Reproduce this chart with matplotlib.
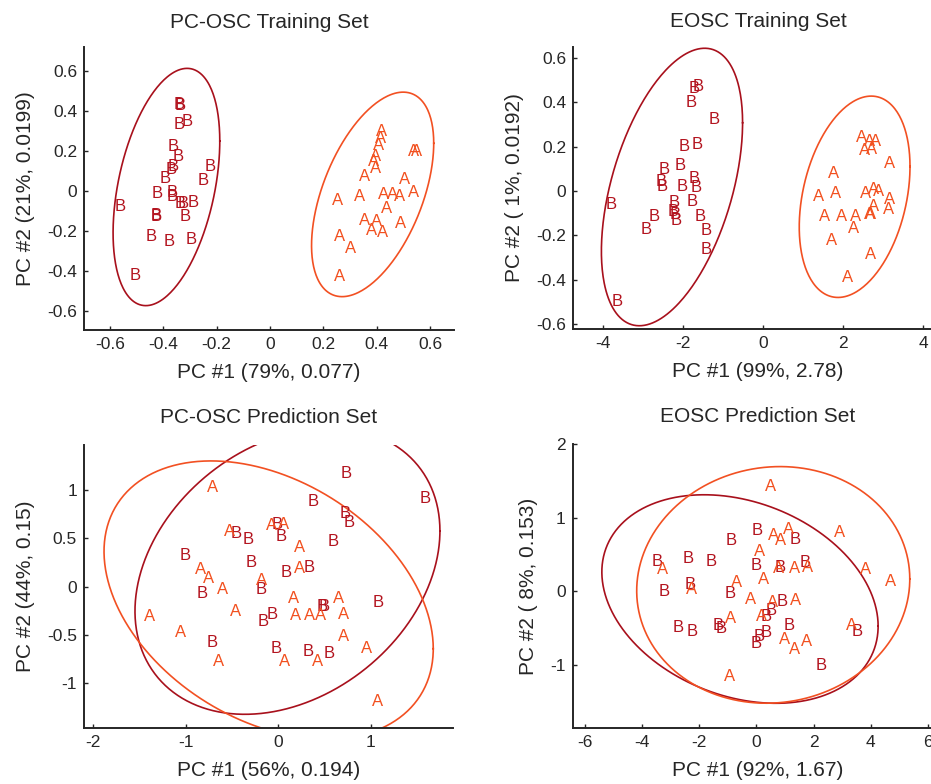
import numpy as np
import matplotlib
matplotlib.use("Agg")
import matplotlib.pyplot as plt
from matplotlib.ticker import FuncFormatter

plt.rcParams['font.family'] = ['Liberation Sans', 'DejaVu Sans']
plt.rcParams['axes.unicode_minus'] = False

B_COLOR = '#B3141F'
A_COLOR = '#F2501F'
B_LINE = '#A8101C'
A_LINE = '#F25022'
INK = '#262626'

# --- PC-OSC training set scores ---
p1_b_x = [-0.340, -0.338, -0.340, -0.312, -0.363, -0.344, -0.363, -0.372, -0.393, -0.225, -0.252, -0.423, -0.365,
          -0.365, -0.325, -0.288, -0.337, -0.319, -0.425, -0.425, -0.562, -0.444, -0.378, -0.296, -0.506]
p1_b_y = [0.434, 0.428, 0.333, 0.345, 0.220, 0.174, 0.120, 0.107, 0.062, 0.120, 0.050, -0.013, -0.010,
          -0.030, -0.063, -0.060, -0.063, -0.127, -0.122, -0.130, -0.080, -0.230, -0.255, -0.243, -0.422]
p1_a_x = [0.419, 0.413, 0.406, 0.394, 0.388, 0.394, 0.356, 0.538, 0.550, 0.506, 0.538, 0.425, 0.460,
          0.485, 0.438, 0.337, 0.254, 0.356, 0.400, 0.381, 0.423, 0.488, 0.260, 0.304, 0.260]
p1_a_y = [0.295, 0.262, 0.228, 0.170, 0.145, 0.112, 0.070, 0.195, 0.195, 0.057, -0.010, -0.017, -0.017,
          -0.030, -0.088, -0.030, -0.047, -0.147, -0.155, -0.200, -0.210, -0.163, -0.227, -0.288, -0.430]

# --- EOSC training set scores ---
p2_b_x = [-1.625, -1.733, -1.790, -1.225, -1.975, -1.650, -2.083, -2.483, -2.540, -2.515, -2.015, -1.733, -1.665,
          -3.790, -2.233, -1.765, -2.250, -2.208, -2.183, -2.733, -1.583, -2.933, -1.433, -1.433, -3.640]
p2_b_y = [0.470, 0.463, 0.398, 0.323, 0.200, 0.210, 0.113, 0.098, 0.042, 0.019, 0.019, 0.057, 0.017,
          -0.063, -0.053, -0.048, -0.093, -0.108, -0.131, -0.113, -0.116, -0.173, -0.176, -0.263, -0.499]
p2_a_x = [2.460, 2.667, 2.817, 2.540, 2.710, 3.167, 1.750, 1.375, 1.810, 2.567, 2.750, 2.875,
          3.150, 3.125, 2.750, 2.667, 2.690, 1.525, 1.960, 2.317, 2.250, 1.710, 2.685, 2.100]
p2_a_y = [0.242, 0.222, 0.222, 0.182, 0.185, 0.125, 0.080, -0.026, -0.010, -0.010, 0.008, -0.003,
          -0.037, -0.083, -0.071, -0.108, -0.105, -0.113, -0.113, -0.113, -0.168, -0.224, -0.288, -0.389]

# --- PC-OSC prediction set scores ---
p3_b_x = [0.738, 1.583, 0.378, 0.720, 0.766, -0.011, 0.036, -0.456, -0.324, 0.593, -1.006, -0.287, 0.083,
          0.334, -0.179, -0.816, 1.079, 0.479, 0.490, -0.071, -0.168, -0.708, -0.025, 0.324, 0.550]
p3_b_y = [1.175, 0.916, 0.881, 0.761, 0.667, 0.647, 0.518, 0.546, 0.484, 0.466, 0.321, 0.253, 0.149,
          0.197, -0.024, -0.068, -0.162, -0.207, -0.207, -0.293, -0.363, -0.576, -0.638, -0.673, -0.690]
p3_a_x = [-0.708, -0.529, -0.071, 0.061, 0.227, 0.227, -0.837, -0.755, -0.600, -0.179, 0.169, 0.647, -0.460,
          -1.384, 0.191, 0.334, 0.457, 0.701, -1.053, 0.701, 0.954, -0.647, 0.072, 0.421, 1.068]
p3_a_y = [1.026, 0.570, 0.632, 0.647, 0.404, 0.190, 0.183, 0.080, -0.024, 0.069, -0.127, -0.127, -0.252,
          -0.311, -0.300, -0.300, -0.300, -0.286, -0.473, -0.518, -0.638, -0.770, -0.777, -0.770, -1.192]

# --- EOSC prediction set scores ---
p4_b_x = [0.040, -0.867, 1.346, -3.490, -2.385, -1.566, 0.007, 0.846, 1.696, -2.325, -3.234, -0.927, 0.916,
          0.507, 0.357, -2.734, -2.231, -1.336, -1.217, 1.147, 0.357, 0.098, 0.007, 3.524, 2.280]
p4_b_y = [0.819, 0.692, 0.705, 0.401, 0.446, 0.401, 0.351, 0.319, 0.387, 0.091, -0.008, -0.035, -0.145,
          -0.263, -0.341, -0.491, -0.546, -0.464, -0.509, -0.464, -0.568, -0.614, -0.718, -0.554, -1.010]
p4_a_x = [0.496, 1.112, 0.587, 0.846, 2.895, 0.098, -3.280, 0.762, 1.346, 1.776, 3.829, 4.690, 0.262,
          -0.692, -2.266, -0.203, 0.566, 1.381, 0.182, -0.902, 3.329, 0.997, 1.346, 1.755, -0.951]
p4_a_y = [1.419, 0.842, 0.750, 0.692, 0.797, 0.537, 0.296, 0.310, 0.310, 0.328, 0.296, 0.128, 0.160,
          0.115, 0.023, -0.113, -0.158, -0.127, -0.341, -0.372, -0.464, -0.659, -0.795, -0.690, -1.160]

# confidence ellipses: centre x, centre y, half extent x, half extent y, correlation
ell_b = [(-0.388, 0.019, 0.200, 0.594, 0.387),
         (-2.278, 0.018, 1.763, 0.625, 0.463),
         (0.099, 0.162, 1.645, 1.484, 0.28),
         (-0.575, -0.107, 4.835, 1.417, -0.26)]
ell_a = [(0.385, -0.018, 0.229, 0.512, 0.50),
         (2.283, -0.026, 1.383, 0.4535, 0.30),
         (-0.104, -0.138, 1.776, 1.441, -0.35),
         (0.589, 0.085, 4.779, 1.608, 0.05)]

titles = ['PC-OSC Training Set', 'EOSC Training Set', 'PC-OSC Prediction Set', 'EOSC Prediction Set']
xlabels = ['PC #1 (79%, 0.077)', 'PC #1 (99%, 2.78)', 'PC #1 (56%, 0.194)', 'PC #1 (92%, 1.67)']
ylabels = ['PC #2 (21%, 0.0199)', 'PC #2 ( 1%, 0.0192)', 'PC #2 (44%, 0.15)', 'PC #2 ( 8%, 0.153)']
xticks = [[-0.6, -0.4, -0.2, 0, 0.2, 0.4, 0.6], [-4, -2, 0, 2, 4], [-2, -1, 0, 1], [-6, -4, -2, 0, 2, 4, 6]]
yticks = [[-0.6, -0.4, -0.2, 0, 0.2, 0.4, 0.6], [-0.6, -0.4, -0.2, 0, 0.2, 0.4, 0.6],
          [-1, -0.5, 0, 0.5, 1], [-1, 0, 1, 2]]
xlims = [(-0.697, 0.690), (-4.75, 4.49), (-2.096, 1.885), (-6.43, 6.52)]
ylims = [(-0.697, 0.72), (-0.623, 0.650), (-1.467, 1.468), (-1.864, 2.0)]

scores = [(p1_a_x, p1_a_y, p1_b_x, p1_b_y),
          (p2_a_x, p2_a_y, p2_b_x, p2_b_y),
          (p3_a_x, p3_a_y, p3_b_x, p3_b_y),
          (p4_a_x, p4_a_y, p4_b_x, p4_b_y)]

W, H = 931, 784
# axes boxes in pixels: left, bottom edge, width, height
boxes = [(84, 330, 370, 283), (573, 329.3, 370, 282.6), (84, 728.3, 369, 283.3), (572.7, 728.3, 370, 284.3)]
title_pads = [14, 14, 16, 16]


def ellipse(ax, params, color):
    cx, cy, hx, hy, r = params
    t = np.linspace(0, 2 * np.pi, 300)
    ex = cx + hx * np.cos(t)
    ey = cy + hy * (r * np.cos(t) + np.sqrt(1 - r ** 2) * np.sin(t))
    ax.plot(ex, ey, color=color, lw=1.2)


fig = plt.figure(figsize=(W / 100, H / 100), dpi=100)
fmt = FuncFormatter(lambda v, p: '%g' % round(v, 3))

for i in range(4):
    l, b, w, h = boxes[i]
    ax = fig.add_axes([l / W, 1 - b / H, w / W, h / H])
    ax_x, ax_y, bx, by = scores[i]
    for x, y in zip(bx, by):
        ax.text(x, y, 'B', color=B_COLOR, fontsize=12, ha='center', va='center')
    for x, y in zip(ax_x, ax_y):
        ax.text(x, y, 'A', color=A_COLOR, fontsize=12, ha='center', va='center')
    ellipse(ax, ell_b[i], B_LINE)
    ellipse(ax, ell_a[i], A_LINE)

    ax.set_xlim(*xlims[i])
    ax.set_ylim(*ylims[i])
    ax.set_xticks(xticks[i])
    ax.set_yticks(yticks[i])
    ax.xaxis.set_major_formatter(fmt)
    ax.yaxis.set_major_formatter(fmt)
    for s in ['top', 'right']:
        ax.spines[s].set_visible(False)
    for s in ['left', 'bottom']:
        ax.spines[s].set_linewidth(1.4)
        ax.spines[s].set_color(INK)
    ax.tick_params(direction='in', length=3, width=1, colors=INK, labelsize=12.5, pad=5)
    ax.set_title(titles[i], fontsize=15, color=INK, pad=title_pads[i])
    ax.set_xlabel(xlabels[i], fontsize=15, color=INK, labelpad=8)
    ax.set_ylabel(ylabels[i], fontsize=15, color=INK, labelpad=9)

fig.savefig('out.png', dpi=100)
